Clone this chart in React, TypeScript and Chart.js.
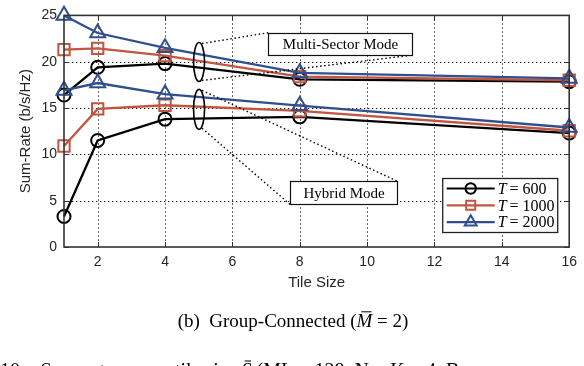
import React, { useEffect, useRef } from 'react';
import { Chart, registerables } from 'chart.js';

Chart.register(...registerables);

// ---------------- data ----------------
const tileSizes = [1, 2, 4, 8, 16];
const xTicks = [2, 4, 6, 8, 10, 12, 14, 16];
const yTicks = [0, 5, 10, 15, 20, 25];

const seriesNames = ['T = 600', 'T = 1000', 'T = 2000'];

// Multi-Sector Mode (upper group)
const multiT600 = [16.4, 19.4, 19.8, 18.1, 17.85];
const multiT1000 = [21.3, 21.45, 20.65, 18.4, 18.0];
const multiT2000 = [25.0, 23.1, 21.5, 18.8, 18.2];

// Hybrid Mode (lower group)
const hybridT600 = [3.3, 11.5, 13.8, 14.05, 12.3];
const hybridT1000 = [10.9, 14.9, 15.3, 14.7, 12.55];
const hybridT2000 = [16.9, 17.7, 16.5, 15.25, 12.9];

const colors = ['#000000', '#c2553f', '#2f4f8e'];
const styles = ['circle', 'rect', 'triangle'];
const radii = [6.5, 8, 8.6];

const SANS = '"Liberation Sans", Arial, sans-serif';
const SERIF = '"Liberation Serif", "Times New Roman", serif';

function makeDataset(label: string, values: number[], idx: number) {
  return {
    label,
    data: tileSizes.map((x, i) => ({ x, y: values[i] })),
    borderColor: colors[idx],
    backgroundColor: 'rgba(0,0,0,0)',
    borderWidth: 2.3,
    pointStyle: styles[idx],
    pointRadius: radii[idx],
    pointHoverRadius: radii[idx],
    pointBorderWidth: 2,
    pointBorderColor: colors[idx],
    pointBackgroundColor: 'rgba(0,0,0,0)',
    tension: 0,
    order: 2 - idx,
    clip: false as any,
  };
}

function drawMarker(ctx: CanvasRenderingContext2D, style: string, x: number, y: number, r: number) {
  ctx.beginPath();
  if (style === 'circle') {
    ctx.arc(x, y, r, 0, Math.PI * 2);
  } else if (style === 'rect') {
    const s = r * Math.SQRT1_2;
    ctx.rect(x - s, y - s, 2 * s, 2 * s);
  } else {
    const h = r;
    ctx.moveTo(x, y - h);
    ctx.lineTo(x + h * 0.866, y + h * 0.5);
    ctx.lineTo(x - h * 0.866, y + h * 0.5);
    ctx.closePath();
  }
  ctx.stroke();
}

const decorPlugin = {
  id: 'decor',
  beforeDatasetsDraw(chart: any) {
    const { ctx, chartArea: a, scales } = chart;
    const x = scales.x;
    const y = scales.y;
    ctx.save();
    ctx.strokeStyle = 'rgba(20,20,20,1)';
    ctx.lineWidth = 1;
    ctx.setLineDash([1.3, 2.7]);
    for (const v of xTicks) {
      if (v <= x.min || v >= x.max) continue;
      const px = Math.round(x.getPixelForValue(v)) + 0.5;
      ctx.beginPath();
      ctx.moveTo(px, a.top);
      ctx.lineTo(px, a.bottom);
      ctx.stroke();
    }
    for (const v of yTicks) {
      if (v <= y.min || v >= y.max) continue;
      const py = Math.round(y.getPixelForValue(v)) + 0.5;
      ctx.beginPath();
      ctx.moveTo(a.left, py);
      ctx.lineTo(a.right, py);
      ctx.stroke();
    }
    ctx.restore();
  },
  afterDatasetsDraw(chart: any) {
    const { ctx, chartArea: a, scales } = chart;
    const x = scales.x;
    const y = scales.y;
    ctx.save();

    // axes box
    ctx.setLineDash([]);
    ctx.strokeStyle = '#333';
    ctx.lineWidth = 1.6;
    ctx.strokeRect(a.left, a.top, a.right - a.left, a.bottom - a.top);
    // inward ticks
    ctx.lineWidth = 1;
    for (const v of xTicks) {
      const px = Math.round(x.getPixelForValue(v)) + 0.5;
      ctx.beginPath();
      ctx.moveTo(px, a.bottom);
      ctx.lineTo(px, a.bottom - 5);
      ctx.moveTo(px, a.top);
      ctx.lineTo(px, a.top + 5);
      ctx.stroke();
    }
    for (const v of yTicks) {
      const py = Math.round(y.getPixelForValue(v)) + 0.5;
      ctx.beginPath();
      ctx.moveTo(a.left, py);
      ctx.lineTo(a.left + 5, py);
      ctx.moveTo(a.right, py);
      ctx.lineTo(a.right - 5, py);
      ctx.stroke();
    }

    // ---- annotations ----
    const X = (v: number) => x.getPixelForValue(v);
    const Y = (v: number) => y.getPixelForValue(v);
    const ellipses = [
      { cx: 5.01, cy: 19.97, ry: 2.1 },
      { cx: 5.01, cy: 14.86, ry: 2.15 },
    ];
    const boxes = [
      { x0: 7.06, x1: 11.32, y0: 23.13, y1: 20.7, text: 'Multi-Sector Mode' },
      { x0: 7.71, x1: 10.88, y0: 7.13, y1: 4.6, text: 'Hybrid Mode' },
    ];
    // connectors
    ctx.strokeStyle = '#000';
    ctx.lineWidth = 1.4;
    ctx.setLineDash([1.5, 2.6]);
    const e0 = ellipses[0];
    const e1 = ellipses[1];
    const b0 = boxes[0];
    const b1 = boxes[1];
    const seg = (x1: number, y1: number, x2: number, y2: number) => {
      ctx.beginPath();
      ctx.moveTo(x1, y1);
      ctx.lineTo(x2, y2);
      ctx.stroke();
    };
    seg(X(e0.cx) + 3, Y(e0.cy + e0.ry) + 1, X(b0.x0), Y(b0.y0));
    seg(X(e0.cx) + 3, Y(e0.cy - e0.ry) - 1, X(b0.x1), Y(b0.y1));
    seg(X(e1.cx) + 3, Y(e1.cy + e1.ry) + 1, X(b1.x1), Y(b1.y0));
    seg(X(e1.cx) + 3, Y(e1.cy - e1.ry) - 1, X(b1.x0), Y(b1.y1));
    ctx.setLineDash([]);
    // ellipses
    ctx.lineWidth = 1.6;
    for (const e of ellipses) {
      const cy = Y(e.cy);
      const ry = Math.abs(Y(e.cy + e.ry) - cy);
      ctx.beginPath();
      ctx.ellipse(X(e.cx), cy, 5.5, ry, 0, 0, Math.PI * 2);
      ctx.stroke();
    }
    // boxes
    for (const b of boxes) {
      const l = Math.round(X(b.x0)) + 0.5;
      const r = Math.round(X(b.x1)) + 0.5;
      const t = Math.round(Y(b.y0)) + 0.5;
      const bt = Math.round(Y(b.y1)) + 0.5;
      ctx.fillStyle = '#fff';
      ctx.fillRect(l, t, r - l, bt - t);
      ctx.strokeStyle = '#111';
      ctx.lineWidth = 1.2;
      ctx.strokeRect(l, t, r - l, bt - t);
      ctx.fillStyle = '#000';
      ctx.font = `15px ${SERIF}`;
      ctx.textAlign = 'center';
      ctx.textBaseline = 'middle';
      ctx.fillText(b.text, (l + r) / 2, (t + bt) / 2 + 1);
    }

    // ---- legend ----
    const lx = a.right - 126.5;
    const ly = a.bottom - 68.5;
    const lw = 115;
    const lh = 54;
    ctx.fillStyle = '#fff';
    ctx.fillRect(lx, ly, lw, lh);
    ctx.strokeStyle = '#222';
    ctx.lineWidth = 1.3;
    ctx.strokeRect(lx, ly, lw, lh);
    for (let i = 0; i < 3; i++) {
      const ry = ly + 10 + i * 16.8;
      ctx.strokeStyle = colors[i];
      ctx.lineWidth = 2.2;
      ctx.beginPath();
      ctx.moveTo(lx + 4, ry);
      ctx.lineTo(lx + 52, ry);
      ctx.stroke();
      ctx.lineWidth = 2;
      drawMarker(ctx, styles[i], lx + 28, ry, radii[i] * 0.8);
      ctx.fillStyle = '#000';
      ctx.textAlign = 'left';
      ctx.textBaseline = 'middle';
      ctx.font = `italic 16px ${SERIF}`;
      const tx = lx + 55;
      ctx.fillText('T', tx, ry + 1);
      const tw = ctx.measureText('T').width;
      ctx.font = `16px ${SERIF}`;
      const parts = seriesNames[i].split('=');
      ctx.fillText('=', tx + tw + 3, ry + 1);
      ctx.fillText(parts[1].trim(), tx + tw + 16, ry + 1);
    }

    // ---- axis titles ----
    ctx.fillStyle = '#262626';
    ctx.font = `15px ${SANS}`;
    ctx.textAlign = 'center';
    ctx.textBaseline = 'middle';
    ctx.fillText('Tile Size', (a.left + a.right) / 2, 283);
    ctx.save();
    ctx.translate(26, (a.top + a.bottom) / 2);
    ctx.rotate(-Math.PI / 2);
    ctx.fillText('Sum-Rate (b/s/Hz)', 0, 0);
    ctx.restore();

    // ---- caption ----
    ctx.fillStyle = '#000';
    ctx.textBaseline = 'alphabetic';
    ctx.textAlign = 'left';
    const drawBarred = (
      pre: string,
      sym: string,
      post: string,
      cx: number | null,
      startX: number,
      base: number,
      size: number
    ) => {
      ctx.font = `${size}px ${SERIF}`;
      const w1 = ctx.measureText(pre).width;
      const w3 = ctx.measureText(post).width;
      ctx.font = `italic ${size}px ${SERIF}`;
      const w2 = ctx.measureText(sym).width;
      const total = w1 + w2 + w3;
      const sx = cx !== null ? cx - total / 2 : startX;
      ctx.font = `${size}px ${SERIF}`;
      ctx.fillText(pre, sx, base);
      ctx.font = `italic ${size}px ${SERIF}`;
      ctx.fillText(sym, sx + w1, base);
      ctx.strokeStyle = '#000';
      ctx.lineWidth = 1;
      ctx.beginPath();
      ctx.moveTo(sx + w1 + w2 * 0.3, base - size * 0.8);
      ctx.lineTo(sx + w1 + w2 * 0.95, base - size * 0.8);
      ctx.stroke();
      ctx.font = `${size}px ${SERIF}`;
      ctx.fillText(post, sx + w1 + w2, base);
    };
    drawBarred('(b)  Group-Connected (', 'M', ' = 2)', 293, 0, 327, 19);
    drawBarred('10:   Sum-rate versus tile size ', 'S', ' (ML = 128, N = K = 4, B', null, 0, 377, 20);

    ctx.restore();
  },
};

export default function App() {
  const ref = useRef<HTMLCanvasElement | null>(null);
  useEffect(() => {
    if (!ref.current) return;
    const datasets = [
      makeDataset(seriesNames[0], multiT600, 0),
      makeDataset(seriesNames[1], multiT1000, 1),
      makeDataset(seriesNames[2], multiT2000, 2),
      makeDataset(seriesNames[0] + ' hybrid', hybridT600, 0),
      makeDataset(seriesNames[1] + ' hybrid', hybridT1000, 1),
      makeDataset(seriesNames[2] + ' hybrid', hybridT2000, 2),
    ];
    const chart = new Chart(ref.current, {
      type: 'line',
      data: { datasets },
      options: {
        responsive: false,
        animation: false,
        devicePixelRatio: 1,
        layout: { padding: { top: 9, right: 10, left: 0, bottom: 0 } },
        plugins: {
          legend: { display: false },
          title: { display: false },
          tooltip: { enabled: false },
        },
        events: [],
        scales: {
          x: {
            type: 'linear',
            min: 1,
            max: 16,
            grid: { display: false, drawTicks: false },
            border: { display: false },
            afterBuildTicks: (s: any) => {
              s.ticks = xTicks.map((v) => ({ value: v }));
            },
            afterFit: (s: any) => {
              s.height = 119;
            },
            ticks: {
              padding: 7,
              color: '#262626',
              font: { family: SANS, size: 14 },
              maxRotation: 0,
              autoSkip: false,
            },
          },
          y: {
            type: 'linear',
            min: 0,
            max: 25,
            grid: { display: false, drawTicks: false },
            border: { display: false },
            afterBuildTicks: (s: any) => {
              s.ticks = yTicks.map((v) => ({ value: v }));
            },
            afterFit: (s: any) => {
              s.width = 64;
            },
            ticks: {
              padding: 7,
              color: '#262626',
              font: { family: SANS, size: 14 },
              autoSkip: false,
            },
          },
        },
      },
      plugins: [decorPlugin],
    } as any);
    return () => chart.destroy();
  }, []);
  return (
    <div
      style={{
        position: 'fixed',
        left: 0,
        top: 0,
        width: 584,
        height: 366,
        background: '#fff',
        overflow: 'hidden',
      }}
    >
      <canvas ref={ref} width={584} height={366} style={{ display: 'block', width: 584, height: 366 }} />
    </div>
  );
}
